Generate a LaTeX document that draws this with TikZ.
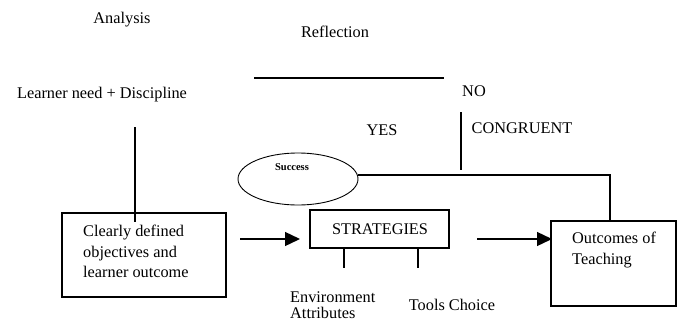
\documentclass[tikz,border=0pt]{standalone}
\usepackage{fontspec}
\setmainfont{Liberation Serif}
\usetikzlibrary{arrows.meta,shapes.geometric}
\begin{document}
\begin{tikzpicture}[x=1pt,y=-1pt,
  every node/.style={font=\fontsize{16.3}{20.5}\selectfont, inner sep=0pt},
  lbl/.style={},
  box/.style={draw, line width=1.3pt, rectangle},
  ln/.style={line width=1.3pt},
  arr/.style={line width=1.3pt, -{Triangle[length=15pt,width=14pt]}}]
  \useasboundingbox (0,0) rectangle (681,325);

  % headings and labels
  \node[lbl] (analysis) at (122,20) {Analysis};
  \node[lbl] (reflection) at (335,32) {Reflection};
  \node[lbl] (learner) at (102,95) {Learner need + Discipline};
  \node[lbl] (no) at (474,91) {NO};
  \node[lbl] (yes) at (382,130) {YES};
  \node[lbl] (congruent) at (522,128) {CONGRUENT};

  % success ellipse
  \node[draw, ellipse, line width=0.9pt, minimum width=120, minimum height=52] (success) at (298,179) {};
  \node[font=\bfseries\fontsize{10.5}{11}\selectfont] (successtxt) at (292,167) {Success};

  % boxes
  \node[box, minimum width=164, minimum height=84] (obj) at (144,255) {};
  \node[anchor=north west, align=left] (objtxt) at (83,225) {Clearly defined\\objectives and\\learner outcome};
  \node[box, minimum width=139, minimum height=38] (strat) at (379.5,229) {};
  \node (strattxt) at (380,229) {STRATEGIES};
  \node[box, minimum width=125, minimum height=85] (out) at (613.5,263.5) {};
  \node[anchor=north west, align=left] (outtxt) at (572,232) {Outcomes of\\Teaching};

  % strategy components
  \node[anchor=north west, align=left] (env) at (290,292) {Environment\\[-5pt]Attributes};
  \node (tools) at (452,305) {Tools Choice};

  % connector anchor points
  \coordinate (ltop) at (135,127);
  \coordinate (lbot) at (135,222);
  \coordinate (rfl) at (254,78);
  \coordinate (rfr) at (444,78);
  \coordinate (ctop) at (461,112);
  \coordinate (cbot) at (461,170);
  \coordinate (a1s) at (240,239);
  \coordinate (a1e) at (300,239);
  \coordinate (a2s) at (477,239);
  \coordinate (a2e) at (552,239);
  \coordinate (t1) at (344,268);
  \coordinate (t2) at (418,268);
  \coordinate (sx) at (358,175);
  \coordinate (corner) at (610,175);

  \draw[ln] (ltop) -- (lbot);
  \draw[ln] (rfl) -- (rfr);
  \draw[ln] (ctop) -- (cbot);
  \draw[ln] (sx) -- (corner) -- (corner |- out.north);
  \draw[arr] (a1s) -- (a1e);
  \draw[arr] (a2s) -- (a2e);
  \draw[ln] (strat.south -| t1) -- (t1);
  \draw[ln] (strat.south -| t2) -- (t2);
\end{tikzpicture}
\end{document}
